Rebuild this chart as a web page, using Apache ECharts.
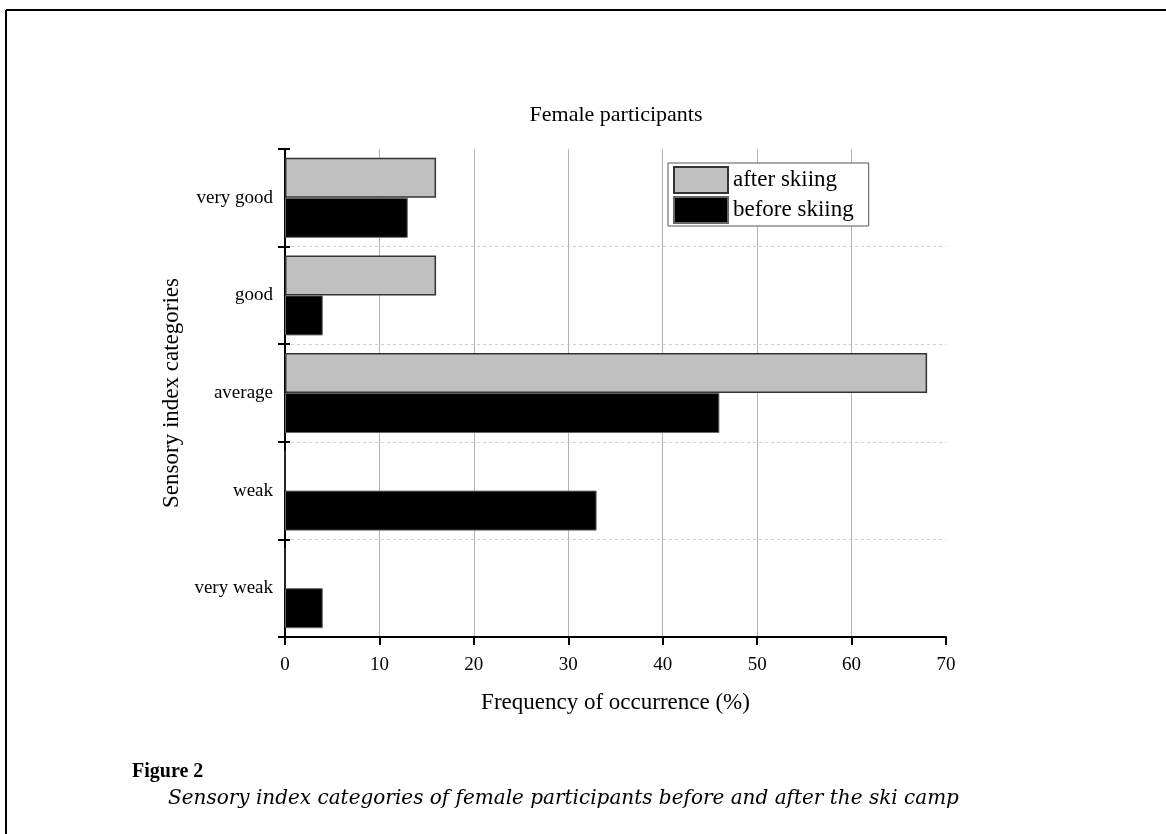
<!DOCTYPE html>
<html>
<head>
<meta charset="utf-8">
<script src="https://cdn.jsdelivr.net/npm/echarts@6/dist/echarts.min.js"></script>
<style>
html,body{margin:0;padding:0;background:#fff;}
#chart{width:1166px;height:834px;}
</style>
</head>
<body>
<div id="chart"></div>
<script>
// Categories listed bottom-to-top (value axis on x, category axis on y)
const categories = ['very weak', 'weak', 'average', 'good', 'very good'];
const afterSkiing = [0, 0, 68, 16, 16];
const beforeSkiing = [4, 33, 46, 4, 13];
const xTicks = { min: 0, max: 70, interval: 10 };
const chartTitle = 'Female participants';
const xAxisName = 'Frequency of occurrence (%)';
const yAxisName = 'Sensory index categories';
const figureLabel = 'Figure 2';
const figureCaption = 'Sensory index categories of female participants before and after the ski camp';

const SERIF = '"Liberation Serif", "Times New Roman", serif';

const chart = echarts.init(document.getElementById('chart'));
chart.setOption({
  animation: false,
  backgroundColor: '#fff',
  title: {
    text: chartTitle,
    left: 611,
    textAlign: 'center',
    top: 99,
    textStyle: { fontFamily: SERIF, fontSize: 22, fontWeight: 'normal', color: '#000' }
  },
  legend: {
    data: ['after skiing', 'before skiing'],
    orient: 'vertical',
    left: 668,
    top: 163,
    icon: 'rect',
    itemWidth: 54,
    itemHeight: 26,
    itemGap: 2,
    padding: [3, 15, 2, 5],
    backgroundColor: '#fff',
    borderColor: '#555',
    borderWidth: 1,
    borderRadius: 0,
    textStyle: { fontFamily: SERIF, fontSize: 23, color: '#000' }
  },
  grid: { left: 285, right: 220, top: 149, bottom: 197, containLabel: false },
  xAxis: {
    type: 'value',
    min: xTicks.min,
    max: xTicks.max,
    interval: xTicks.interval,
    name: xAxisName,
    nameLocation: 'middle',
    nameGap: 54,
    nameTextStyle: { fontFamily: SERIF, fontSize: 23, color: '#000' },
    axisLine: { show: true, lineStyle: { color: '#000', width: 2 } },
    axisTick: { show: true, inside: false, length: 8, lineStyle: { color: '#000', width: 2 } },
    axisLabel: { fontFamily: SERIF, fontSize: 19, color: '#000', margin: 19 },
    splitLine: { show: true, showMinLine: false, showMaxLine: false, lineStyle: { color: '#b4b4b4', width: 1 } }
  },
  yAxis: [{
    type: 'category',
    data: categories,
    boundaryGap: true,
    name: yAxisName,
    nameLocation: 'middle',
    nameGap: 92,
    nameTextStyle: { fontFamily: SERIF, fontSize: 23, color: '#000' },
    axisLine: { show: true, lineStyle: { color: '#000', width: 2 } },
    axisTick: { show: true, inside: false, length: 7, lineStyle: { color: '#000', width: 2 } },
    axisLabel: { fontFamily: SERIF, fontSize: 19, color: '#000', margin: 12 },
    splitLine: { show: true, showMinLine: false, showMaxLine: false, lineStyle: { color: '#cfcfcf', width: 1, type: [3, 3] } }
  }, {
    type: 'category',
    data: categories,
    position: 'left',
    boundaryGap: true,
    axisLine: { show: false },
    axisTick: { show: true, inside: true, length: 5, lineStyle: { color: '#000', width: 2 } },
    axisLabel: { show: false },
    splitLine: { show: false }
  }],
  series: [{
    name: 'after skiing',
    type: 'bar',
    data: afterSkiing,
    barGap: '0%',
    barCategoryGap: '18%',
    itemStyle: { color: '#c0c0c0', borderColor: '#333', borderWidth: 1.5 }
  }, {
    name: 'before skiing',
    type: 'bar',
    data: beforeSkiing,
    barGap: '0%',
    barCategoryGap: '18%',
    itemStyle: { color: '#000', borderColor: '#666', borderWidth: 1 }
  }],
  graphic: [
    { type: 'line', shape: { x1: 6, y1: 10, x2: 1166, y2: 10 }, style: { stroke: '#000', lineWidth: 2 } },
    { type: 'line', shape: { x1: 6, y1: 10, x2: 6, y2: 834 }, style: { stroke: '#000', lineWidth: 2 } },
    { type: 'text', left: 132, top: 762, style: { text: figureLabel, font: 'bold 20px "Liberation Serif", serif', fill: '#000' } },
    { type: 'text', left: 168, top: 789, style: { text: figureCaption, font: 'italic 20px "DejaVu Serif", serif', fill: '#000' } }
  ]
});
</script>
</body>
</html>
